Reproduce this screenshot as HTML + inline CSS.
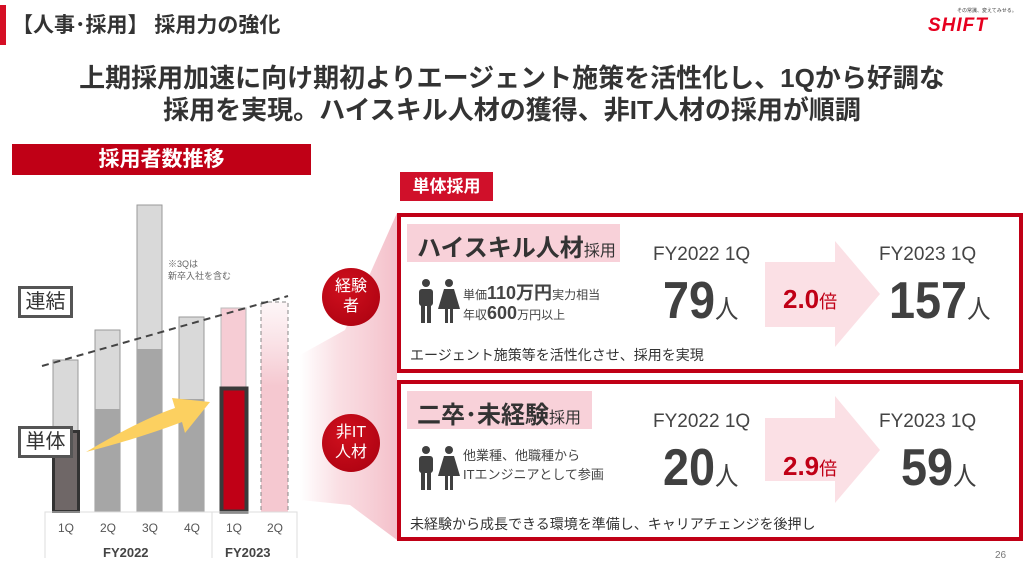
<!DOCTYPE html>
<html><head><meta charset="utf-8">
<style>
*{margin:0;padding:0;box-sizing:border-box}
body{width:1024px;height:576px;background:#fff;position:relative;overflow:hidden;font-family:"Liberation Sans","Noto Sans CJK JP",sans-serif;color:#333}
.a{position:absolute}
.b{font-weight:bold}
.ql{position:absolute;top:521px;font-size:12px;color:#555;width:30px;text-align:center}
.box{position:absolute;left:397px;width:626px;border:4px solid #c00016;background:#fff}
.hd{position:absolute;left:6px;top:7px;height:38px;background:#f8d1d9;font-size:24px;font-weight:bold;color:#333;padding:4px 10px;white-space:nowrap}
.hd small{font-size:16px;font-weight:normal}
.fy{position:absolute;font-size:19px;color:#444}
.big{position:absolute;font-size:52px;font-weight:bold;color:#404040;line-height:1;transform:scaleX(0.9);transform-origin:left}
.big span{font-size:26px;font-weight:normal}
.circ{position:absolute;left:322px;width:58px;height:58px;border-radius:50%;background:radial-gradient(circle at 40% 35%,#d0101e,#a8000f);color:#fff;font-size:16px;text-align:center;line-height:20px;padding-top:9px}
</style></head><body>
<div class="a" style="left:0;top:5px;width:6px;height:40px;background:#d50f25"></div>
<div class="a" style="left:12px;top:9px;font-size:21px;font-weight:bold;color:#333">【人事･採用】 採用力の強化</div>
<div class="a" style="left:957px;top:7px;font-size:5px;color:#444;white-space:nowrap">その常識、変えてみせる。</div>
<div class="a" style="left:928px;top:15px;font-size:19px;font-weight:bold;font-style:italic;color:#e6001f;letter-spacing:1px">SHIFT</div>
<div class="a b" style="left:0;width:1024px;top:62px;text-align:center;font-size:26px;line-height:32px;color:#333">上期採用加速に向け期初よりエージェント施策を活性化し、1Qから好調な<br>採用を実現。ハイスキル人材の獲得、非IT人材の採用が順調</div>

<div class="a b" style="left:12px;top:144px;width:299px;height:31px;background:#c00016;color:#fff;font-size:21px;text-align:center;line-height:31px">採用者数推移</div>

<svg class="a" style="left:0;top:0" width="1024" height="576">
<defs>
<linearGradient id="wg" x1="0" x2="1" y1="0" y2="0"><stop offset="0" stop-color="#f6c9d1" stop-opacity="0"/><stop offset="0.4" stop-color="#f6c9d1" stop-opacity="0.6"/><stop offset="1" stop-color="#f4c0ca"/></linearGradient>
<linearGradient id="dg" x1="0" x2="0" y1="0" y2="1"><stop offset="0" stop-color="#f7d3da" stop-opacity="0.2"/><stop offset="0.4" stop-color="#f5c8d0"/><stop offset="1" stop-color="#f5c8d0"/></linearGradient>
</defs>
<polygon points="397,213 345,330 300,355 300,500 350,505 397,540" fill="url(#wg)"/>
<rect x="53" y="360" width="25" height="152" fill="#d9d9d9" stroke="#999" stroke-width="1"/>
<rect x="95" y="330" width="25" height="182" fill="#d9d9d9" stroke="#999"/>
<rect x="95" y="409" width="25" height="103" fill="#a6a6a6"/>
<rect x="137" y="205" width="25" height="307" fill="#d9d9d9" stroke="#999"/>
<rect x="137" y="349" width="25" height="163" fill="#a6a6a6"/>
<rect x="179" y="317" width="25" height="195" fill="#d9d9d9" stroke="#999"/>
<rect x="179" y="399" width="25" height="113" fill="#a6a6a6"/>
<rect x="221" y="308" width="25" height="204" fill="#f6ccd4" stroke="#bbb"/>
<rect x="261" y="302" width="27" height="210" fill="url(#dg)" stroke="#888" stroke-dasharray="4,3"/>
<rect x="53.5" y="431.5" width="25" height="80" fill="#6f6767" stroke="#333" stroke-width="3"/>
<rect x="221.5" y="388.5" width="25" height="123" fill="#c00016" stroke="#3a3a3a" stroke-width="4"/>
<line x1="42" y1="366" x2="288" y2="296" stroke="#444" stroke-width="2" stroke-dasharray="7,5"/>
<path d="M86,452 Q140,420 175,408 L172,398 L210,402 L185,433 L182,422 Q140,438 86,452 Z" fill="#fcd060"/>
<polyline points="45,558 45,512 297,512 297,558" fill="none" stroke="#ddd"/>
<line x1="212" y1="512" x2="212" y2="558" stroke="#ddd"/>
</svg>
<div class="a" style="left:168px;top:258px;font-size:9px;color:#666;line-height:12px">※3Qは<br>新卒入社を含む</div>
<div class="a" style="left:18px;top:286px;width:55px;height:32px;border:3px solid #555;background:#fff;font-size:20px;text-align:center;line-height:26px">連結</div>
<div class="a" style="left:18px;top:426px;width:55px;height:32px;border:3px solid #555;background:#fff;font-size:20px;text-align:center;line-height:26px">単体</div>
<div class="ql" style="left:51px">1Q</div><div class="ql" style="left:93px">2Q</div><div class="ql" style="left:135px">3Q</div><div class="ql" style="left:177px">4Q</div><div class="ql" style="left:219px">1Q</div><div class="ql" style="left:260px">2Q</div>
<div class="a b" style="left:103px;top:545px;font-size:13px;color:#444">FY2022</div>
<div class="a b" style="left:225px;top:545px;font-size:13px;color:#444">FY2023</div>

<div class="a b" style="left:400px;top:172px;width:93px;height:29px;background:#d0102a;color:#fff;font-size:17px;text-align:center;line-height:29px">単体採用</div>

<div class="box" style="top:213px;height:160px">
 <svg class="a" style="left:364px;top:24px" width="116" height="108"><polygon points="0,21 70,21 70,0 115,53 70,106 70,86 0,86" fill="#fbe0e5"/></svg>
 <div class="hd" style="width:213px">ハイスキル人材<small>採用</small></div>
 <svg class="a" style="left:14px;top:62px" width="46" height="46" viewBox="0 0 46 46"><g fill="#404040"><circle cx="11" cy="4" r="4"/><rect x="4" y="10" width="14" height="17" rx="3"/><rect x="6" y="24" width="4" height="20"/><rect x="12" y="24" width="4" height="20"/><circle cx="34" cy="4" r="4"/><path d="M29,10h10l6,20h-22z"/><rect x="30" y="28" width="3" height="16"/><rect x="35" y="28" width="3" height="16"/></g></svg>
 <div class="a" style="left:62px;top:62px;font-size:12px;color:#444;white-space:nowrap">単価<b style="font-size:18px">110万円</b>実力相当</div>
 <div class="a" style="left:62px;top:86px;font-size:12px;color:#444;white-space:nowrap">年収<b style="font-size:18px">600</b>万円以上</div>
 <div class="fy" style="left:252px;top:27px">FY2022 1Q</div>
 <div class="big" style="left:262px;top:58px">79<span>人</span></div>
 <div class="a b" style="left:382px;top:67px;font-size:26px;color:#c00016">2.0<span style="font-size:18px;font-weight:normal">倍</span></div>
 <div class="fy" style="left:478px;top:27px">FY2023 1Q</div>
 <div class="big" style="left:488px;top:58px">157<span>人</span></div>
 <div class="a" style="left:9px;top:128px;font-size:14px;color:#333">エージェント施策等を活性化させ、採用を実現</div>
</div>
<div class="box" style="top:380px;height:161px">
 <svg class="a" style="left:364px;top:12px" width="116" height="110"><polygon points="0,22 70,22 70,0 115,54 70,107 70,85 0,85" fill="#fbe0e5"/></svg>
 <div class="hd" style="width:185px">二卒･未経験<small>採用</small></div>
 <svg class="a" style="left:14px;top:62px" width="46" height="46" viewBox="0 0 46 46"><g fill="#404040"><circle cx="11" cy="4" r="4"/><rect x="4" y="10" width="14" height="17" rx="3"/><rect x="6" y="24" width="4" height="20"/><rect x="12" y="24" width="4" height="20"/><circle cx="34" cy="4" r="4"/><path d="M29,10h10l6,20h-22z"/><rect x="30" y="28" width="3" height="16"/><rect x="35" y="28" width="3" height="16"/></g></svg>
 <div class="a" style="left:62px;top:62px;font-size:13px;color:#444;line-height:19px;white-space:nowrap">他業種、他職種から<br>ITエンジニアとして参画</div>
 <div class="fy" style="left:252px;top:27px">FY2022 1Q</div>
 <div class="big" style="left:262px;top:58px">20<span>人</span></div>
 <div class="a b" style="left:382px;top:67px;font-size:26px;color:#c00016">2.9<span style="font-size:18px;font-weight:normal">倍</span></div>
 <div class="fy" style="left:478px;top:27px">FY2023 1Q</div>
 <div class="big" style="left:500px;top:58px">59<span>人</span></div>
 <div class="a" style="left:9px;top:130px;font-size:14px;color:#333">未経験から成長できる環境を準備し、キャリアチェンジを後押し</div>
</div>
<div class="circ" style="top:268px">経験<br>者</div>
<div class="circ" style="top:414px">非IT<br>人材</div>
<div class="a" style="left:995px;top:550px;font-size:10px;color:#777">26</div>
</body></html>
